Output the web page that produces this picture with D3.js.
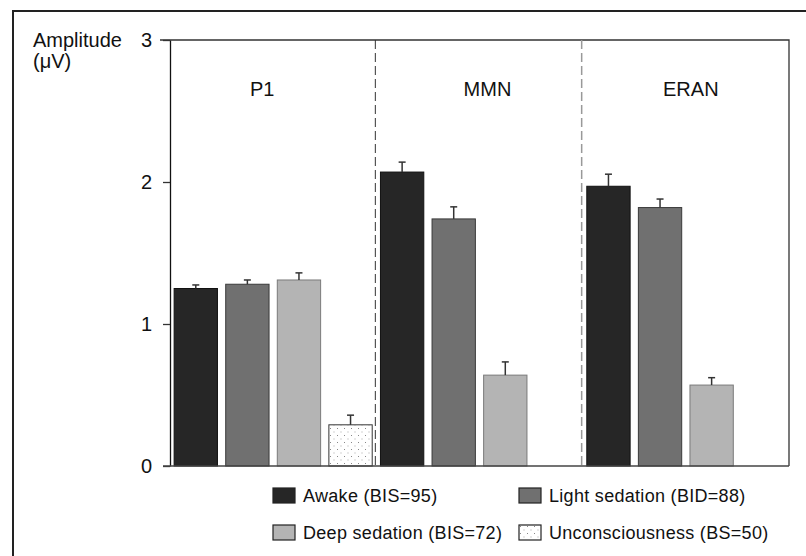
<!DOCTYPE html>
<html>
<head>
<meta charset="utf-8">
<script src="https://cdn.jsdelivr.net/npm/d3@7"></script>
<style>
  body { margin: 0; background: #fff; }
  svg { display: block; font-family: "Liberation Sans", Arial, sans-serif; }
</style>
</head>
<body>
<svg id="chart"></svg>
<script>
// Data
const components = ["P1", "MMN", "ERAN"];
const conditions = ["Awake (BIS=95)", "Light sedation (BID=88)", "Deep sedation (BIS=72)", "Unconsciousness (BS=50)"];
const awake = [1.25, 2.07, 1.97];
const lightSedation = [1.28, 1.74, 1.82];
const deepSedation = [1.31, 0.64, 0.57];
const unconsciousness = [0.29, null, null];
const awakeErr = [0.025, 0.07, 0.085];
const lightErr = [0.03, 0.085, 0.06];
const deepErr = [0.05, 0.093, 0.052];
const unconErr = [0.068, null, null];
const yTicks = [0, 1, 2, 3];

// Chart Dimensions
const width = 806;
const height = 556;
const margin = { top: 40, right: 17, bottom: 90, left: 170 };

const svg = d3.select("#chart").attr("width", width).attr("height", height);

// Outer frame (left and top only, picture is cropped)
svg.append("path")
  .attr("d", `M13,${height} V11 H${width}`)
  .attr("fill", "none")
  .attr("stroke", "#222")
  .attr("stroke-width", 2);

// Pattern for unconsciousness
const defs = svg.append("defs");
const pat = defs.append("pattern")
  .attr("id", "dots")
  .attr("patternUnits", "userSpaceOnUse")
  .attr("width", 7)
  .attr("height", 7);
pat.append("rect").attr("width", 7).attr("height", 7).attr("fill", "#fff");
pat.append("rect").attr("x", 1).attr("y", 1).attr("width", 1).attr("height", 1).attr("fill", "#888");
pat.append("rect").attr("x", 4.5).attr("y", 4.5).attr("width", 1).attr("height", 1).attr("fill", "#aaa");

// Scales
const x0 = d3.scaleBand()
  .domain(components)
  .range([margin.left, width - margin.right])
  .padding(0);

const x1 = d3.scaleBand()
  .domain(conditions)
  .range([0, x0.bandwidth()])
  .paddingInner(0.16)
  .paddingOuter(0.08);

const y = d3.scaleLinear()
  .domain([0, 3])
  .range([height - margin.bottom, margin.top]);

const fills = ["#262626", "#707070", "#b4b4b4", "url(#dots)"];
const strokes = ["#111", "#3a3a3a", "#7a7a7a", "#333"];
const color = d3.scaleOrdinal().domain(conditions).range(fills);
const strokeColor = d3.scaleOrdinal().domain(conditions).range(strokes);

const seriesValues = [awake, lightSedation, deepSedation, unconsciousness];
const seriesErrors = [awakeErr, lightErr, deepErr, unconErr];

const rows = [];
components.forEach((c, i) => {
  conditions.forEach((cond, j) => {
    if (seriesValues[j][i] != null) {
      rows.push({ comp: c, cond: cond, value: seriesValues[j][i], err: seriesErrors[j][i] });
    }
  });
});

// Plot box top + right
const plotRight = width - margin.right;
svg.append("path")
  .attr("d", `M${margin.left - 10},${margin.top} H${plotRight} V${y(0)}`)
  .attr("fill", "none")
  .attr("stroke", "#333")
  .attr("stroke-width", 1.3);

// Dashed separators
svg.selectAll(".sep")
  .data(components.slice(1))
  .enter()
  .append("line")
  .attr("x1", (d) => x0(d) - 1)
  .attr("x2", (d) => x0(d) - 1)
  .attr("y1", margin.top)
  .attr("y2", y(0) + 3)
  .attr("stroke", (d, i) => (i === 0 ? "#333" : "#999"))
  .attr("stroke-width", (d, i) => (i === 0 ? 1 : 1.5))
  .attr("stroke-dasharray", "9,4");

// Bars
svg.selectAll(".bar")
  .data(rows)
  .enter()
  .append("rect")
  .attr("x", (d) => x0(d.comp) + x1(d.cond))
  .attr("y", (d) => y(d.value))
  .attr("width", x1.bandwidth())
  .attr("height", (d) => y(0) - y(d.value))
  .attr("fill", (d) => color(d.cond))
  .attr("stroke", (d) => strokeColor(d.cond))
  .attr("stroke-width", 1);

// Error bars (upper only)
const err = svg.selectAll(".err")
  .data(rows)
  .enter()
  .append("g")
  .attr("transform", (d) => `translate(${x0(d.comp) + x1(d.cond) + x1.bandwidth() / 2},0)`);
err.append("line")
  .attr("y1", (d) => y(d.value))
  .attr("y2", (d) => y(d.value + d.err))
  .attr("stroke", "#333")
  .attr("stroke-width", 1.5);
err.append("line")
  .attr("x1", -3.5)
  .attr("x2", 3.5)
  .attr("y1", (d) => y(d.value + d.err))
  .attr("y2", (d) => y(d.value + d.err))
  .attr("stroke", "#333")
  .attr("stroke-width", 1.5);

// Y axis
const yAxis = svg.append("g")
  .attr("transform", `translate(${margin.left},0)`)
  .call(d3.axisLeft(y).tickValues(yTicks).tickFormat(d3.format("d")).tickSize(7).tickSizeOuter(0).tickPadding(11));
yAxis.select(".domain").attr("stroke", "#111").attr("stroke-width", 1.3);
yAxis.selectAll(".tick line").attr("stroke", "#333").attr("stroke-width", 1.3);
yAxis.selectAll(".tick text")
  .attr("font-size", 20)
  .attr("font-family", "Liberation Sans, Arial, sans-serif")
  .attr("fill", "#111");

// X axis line
svg.append("line")
  .attr("x1", margin.left - 7)
  .attr("x2", plotRight)
  .attr("y1", y(0))
  .attr("y2", y(0))
  .attr("stroke", "#444")
  .attr("stroke-width", 1.3);

// Y label
const ylab = svg.append("text")
  .attr("font-size", 20)
  .attr("fill", "#111");
ylab.append("tspan").attr("x", 33).attr("y", 47).text("Amplitude");
ylab.append("tspan").attr("x", 33).attr("y", 68).text("(\u03BCV)");

// Component labels
const labelDx = [-11, 8, 5];
svg.selectAll(".comp")
  .data(components)
  .enter()
  .append("text")
  .attr("x", (d, i) => x0(d) + x0.bandwidth() / 2 + labelDx[i])
  .attr("y", 96)
  .attr("text-anchor", "middle")
  .attr("font-size", 20)
  .attr("fill", "#111")
  .text((d) => d);

// Legend
const legendX = [273, 519];
const legendY = [488, 525];
const legend = svg.selectAll(".legend")
  .data(conditions)
  .enter()
  .append("g")
  .attr("transform", (d, i) => `translate(${legendX[i % 2]},${legendY[Math.floor(i / 2)]})`);
legend.append("rect")
  .attr("width", 22)
  .attr("height", 15)
  .attr("fill", (d) => color(d))
  .attr("stroke", "#222")
  .attr("stroke-width", 1.2);
legend.append("text")
  .attr("x", 30)
  .attr("y", 14)
  .attr("font-size", 18)
  .attr("letter-spacing", 0.3)
  .attr("fill", "#111")
  .text((d) => d);
</script>
</body>
</html>
